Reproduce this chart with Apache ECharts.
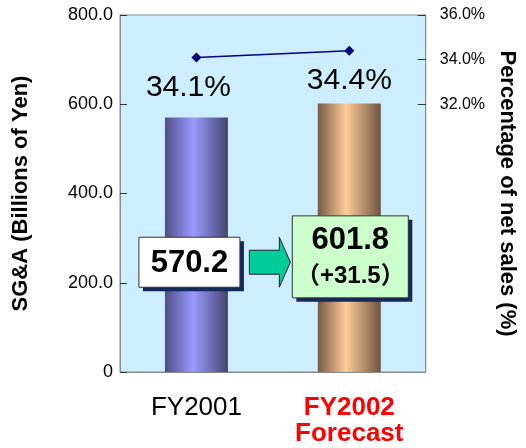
<!DOCTYPE html>
<html>
<head>
<meta charset="utf-8">
<script src="https://cdn.jsdelivr.net/npm/echarts@6/dist/echarts.min.js"></script>
<style>
  html, body { margin: 0; padding: 0; background: #fff; }
  #main { width: 526px; height: 448px; }
</style>
</head>
<body>
<div id="main"></div>
<script>
var categories = ['FY2001', 'FY2002\nForecast'];
var sgaValues = [570.2, 601.8];
var ratioValues = [34.1, 34.4];
var boxTexts = ['570.2', '601.8', '（+31.5）'];
var leftTitle = 'SG&A (Billions of Yen)';
var rightTitle = 'Percentage of net sales (%)';
var rightLabelValues = [32, 34, 36];

var FONT = '"Liberation Sans", Arial, sans-serif';
var dom = document.getElementById('main');
var myChart = echarts.init(dom);

function barGrad(dark, light, dark2) {
  return new echarts.graphic.LinearGradient(0, 0, 1, 0, [
    { offset: 0, color: dark },
    { offset: 0.45, color: light },
    { offset: 1, color: dark2 }
  ]);
}
var barColors = [
  barGrad('#4e4e84', '#9b9bff', '#44446e'),
  barGrad('#765a42', '#ffcc99', '#6e5440')
];

var option = {
  animation: false,
  grid: {
    left: 120, right: 96, top: 15, bottom: 76,
    show: true,
    backgroundColor: '#cceeff',
    borderColor: '#8a8a8a',
    borderWidth: 1
  },
  xAxis: {
    type: 'category',
    data: categories,
    axisLine: { lineStyle: { color: '#8a8a8a' } },
    axisTick: { inside: true, length: 6, lineStyle: { color: '#555' } },
    axisLabel: {
      interval: 0,
      hideOverlap: false,
      margin: 23,
      fontFamily: FONT,
      fontSize: 26,
      lineHeight: 26,
      color: '#000',
      formatter: function (v, i) {
        return i === 1 ? '{f|' + v.split('\n').join('}\n{f|') + '}' : v;
      },
      rich: {
        f: { color: '#ff0000', fontWeight: 'bold', fontSize: 26, lineHeight: 26, fontFamily: FONT }
      }
    }
  },
  yAxis: [
    {
      type: 'value',
      min: 0, max: 800, interval: 200,
      name: leftTitle,
      nameLocation: 'middle',
      nameRotate: 90,
      nameGap: 88,
      nameTextStyle: { fontFamily: FONT, fontWeight: 'bold', fontSize: 22, color: '#000' },
      splitLine: { show: false },
      axisLine: { show: true, lineStyle: { color: '#8a8a8a' } },
      axisTick: { show: true, inside: true, length: 7, lineStyle: { color: '#333' } },
      axisLabel: {
        margin: 7,
        fontFamily: FONT, fontSize: 18, color: '#000',
        formatter: function (v) { return v === 0 ? '0' : v.toFixed(1); }
      }
    },
    {
      type: 'value',
      min: 20, max: 36, interval: 2,
      name: rightTitle,
      nameLocation: 'middle',
      nameRotate: -90,
      nameGap: 67,
      nameTextStyle: { fontFamily: FONT, fontWeight: 'bold', fontSize: 22, color: '#000' },
      splitLine: { show: false },
      axisLine: { show: true, lineStyle: { color: '#8a8a8a' } },
      axisTick: { show: true, inside: true, length: 8, lineStyle: { color: '#333' }, customValues: rightLabelValues },
      axisLabel: {
        margin: 14,
        fontFamily: FONT, fontSize: 16, color: '#000',
        customValues: rightLabelValues,
        formatter: function (v) { return v.toFixed(1) + '%'; }
      }
    }
  ],
  series: [
    {
      type: 'bar',
      yAxisIndex: 0,
      barWidth: 63,
      data: sgaValues.map(function (v, i) {
        return { value: v, itemStyle: { color: barColors[i] } };
      })
    },
    {
      type: 'line',
      yAxisIndex: 1,
      symbol: 'diamond',
      symbolSize: 10,
      lineStyle: { color: '#000080', width: 1.5 },
      itemStyle: { color: '#000080' },
      label: {
        show: true,
        position: 'bottom',
        distance: 10,
        fontFamily: FONT,
        fontSize: 30,
        color: '#000',
        formatter: function (p) { return p.value.toFixed(1) + '%'; }
      },
      data: ratioValues.map(function (v, i) {
        return i === 0 ? { value: v, label: { offset: [-8, 0] } } : { value: v };
      })
    }
  ]
};

myChart.setOption(option, true);

// annotation boxes, placed from axis scale
var p1 = myChart.convertToPixel({ xAxisIndex: 0, yAxisIndex: 0 }, [0, 246]);
var p2 = myChart.convertToPixel({ xAxisIndex: 0, yAxisIndex: 0 }, [1, 258]);
var pm = [(p1[0] + p2[0]) / 2, p1[1]];
var SH = '#14285a';

function box(cx, cy, w, h, fill) {
  return [
    { type: 'rect', shape: { x: cx - w / 2 + 4, y: cy - h / 2 + 4, width: w, height: h }, style: { fill: SH }, z: 9 },
    { type: 'rect', shape: { x: cx - w / 2, y: cy - h / 2, width: w, height: h }, style: { fill: fill, stroke: '#333', lineWidth: 1 }, z: 10 }
  ];
}

var graphics = []
  .concat(box(p1[0] - 7, p1[1], 101, 50, '#ffffff'))
  .concat(box(p2[0] + 1, p2[1], 116, 82, '#ccffcc'))
  .concat([
    {
      type: 'text',
      x: p1[0] - 7, y: p1[1] + 1,
      style: { text: boxTexts[0], fontFamily: FONT, fontWeight: 'bold', fontSize: 31, fill: '#000', align: 'center', verticalAlign: 'middle' },
      z: 11
    },
    {
      type: 'polygon',
      x: pm[0] - 3.5, y: pm[1],
      shape: { points: [[-20, -12], [10, -12], [10, -25], [21, 0], [10, 25], [10, 12], [-20, 12]] },
      style: { fill: '#00cc99', stroke: '#222', lineWidth: 1 },
      z: 10
    },
    {
      type: 'text',
      x: p2[0] + 1, y: p2[1] - 16,
      style: { text: boxTexts[1], fontFamily: FONT, fontWeight: 'bold', fontSize: 31, fill: '#000', align: 'center', verticalAlign: 'middle' },
      z: 11
    },
    {
      type: 'text',
      x: p2[0] + 1, y: p2[1] + 20,
      style: { text: boxTexts[2], fontFamily: FONT + ', "Noto Sans CJK JP"', fontWeight: 'bold', fontSize: 24, fill: '#000', align: 'center', verticalAlign: 'middle' },
      z: 11
    }
  ]);

myChart.setOption({ graphic: graphics });
</script>
</body>
</html>
